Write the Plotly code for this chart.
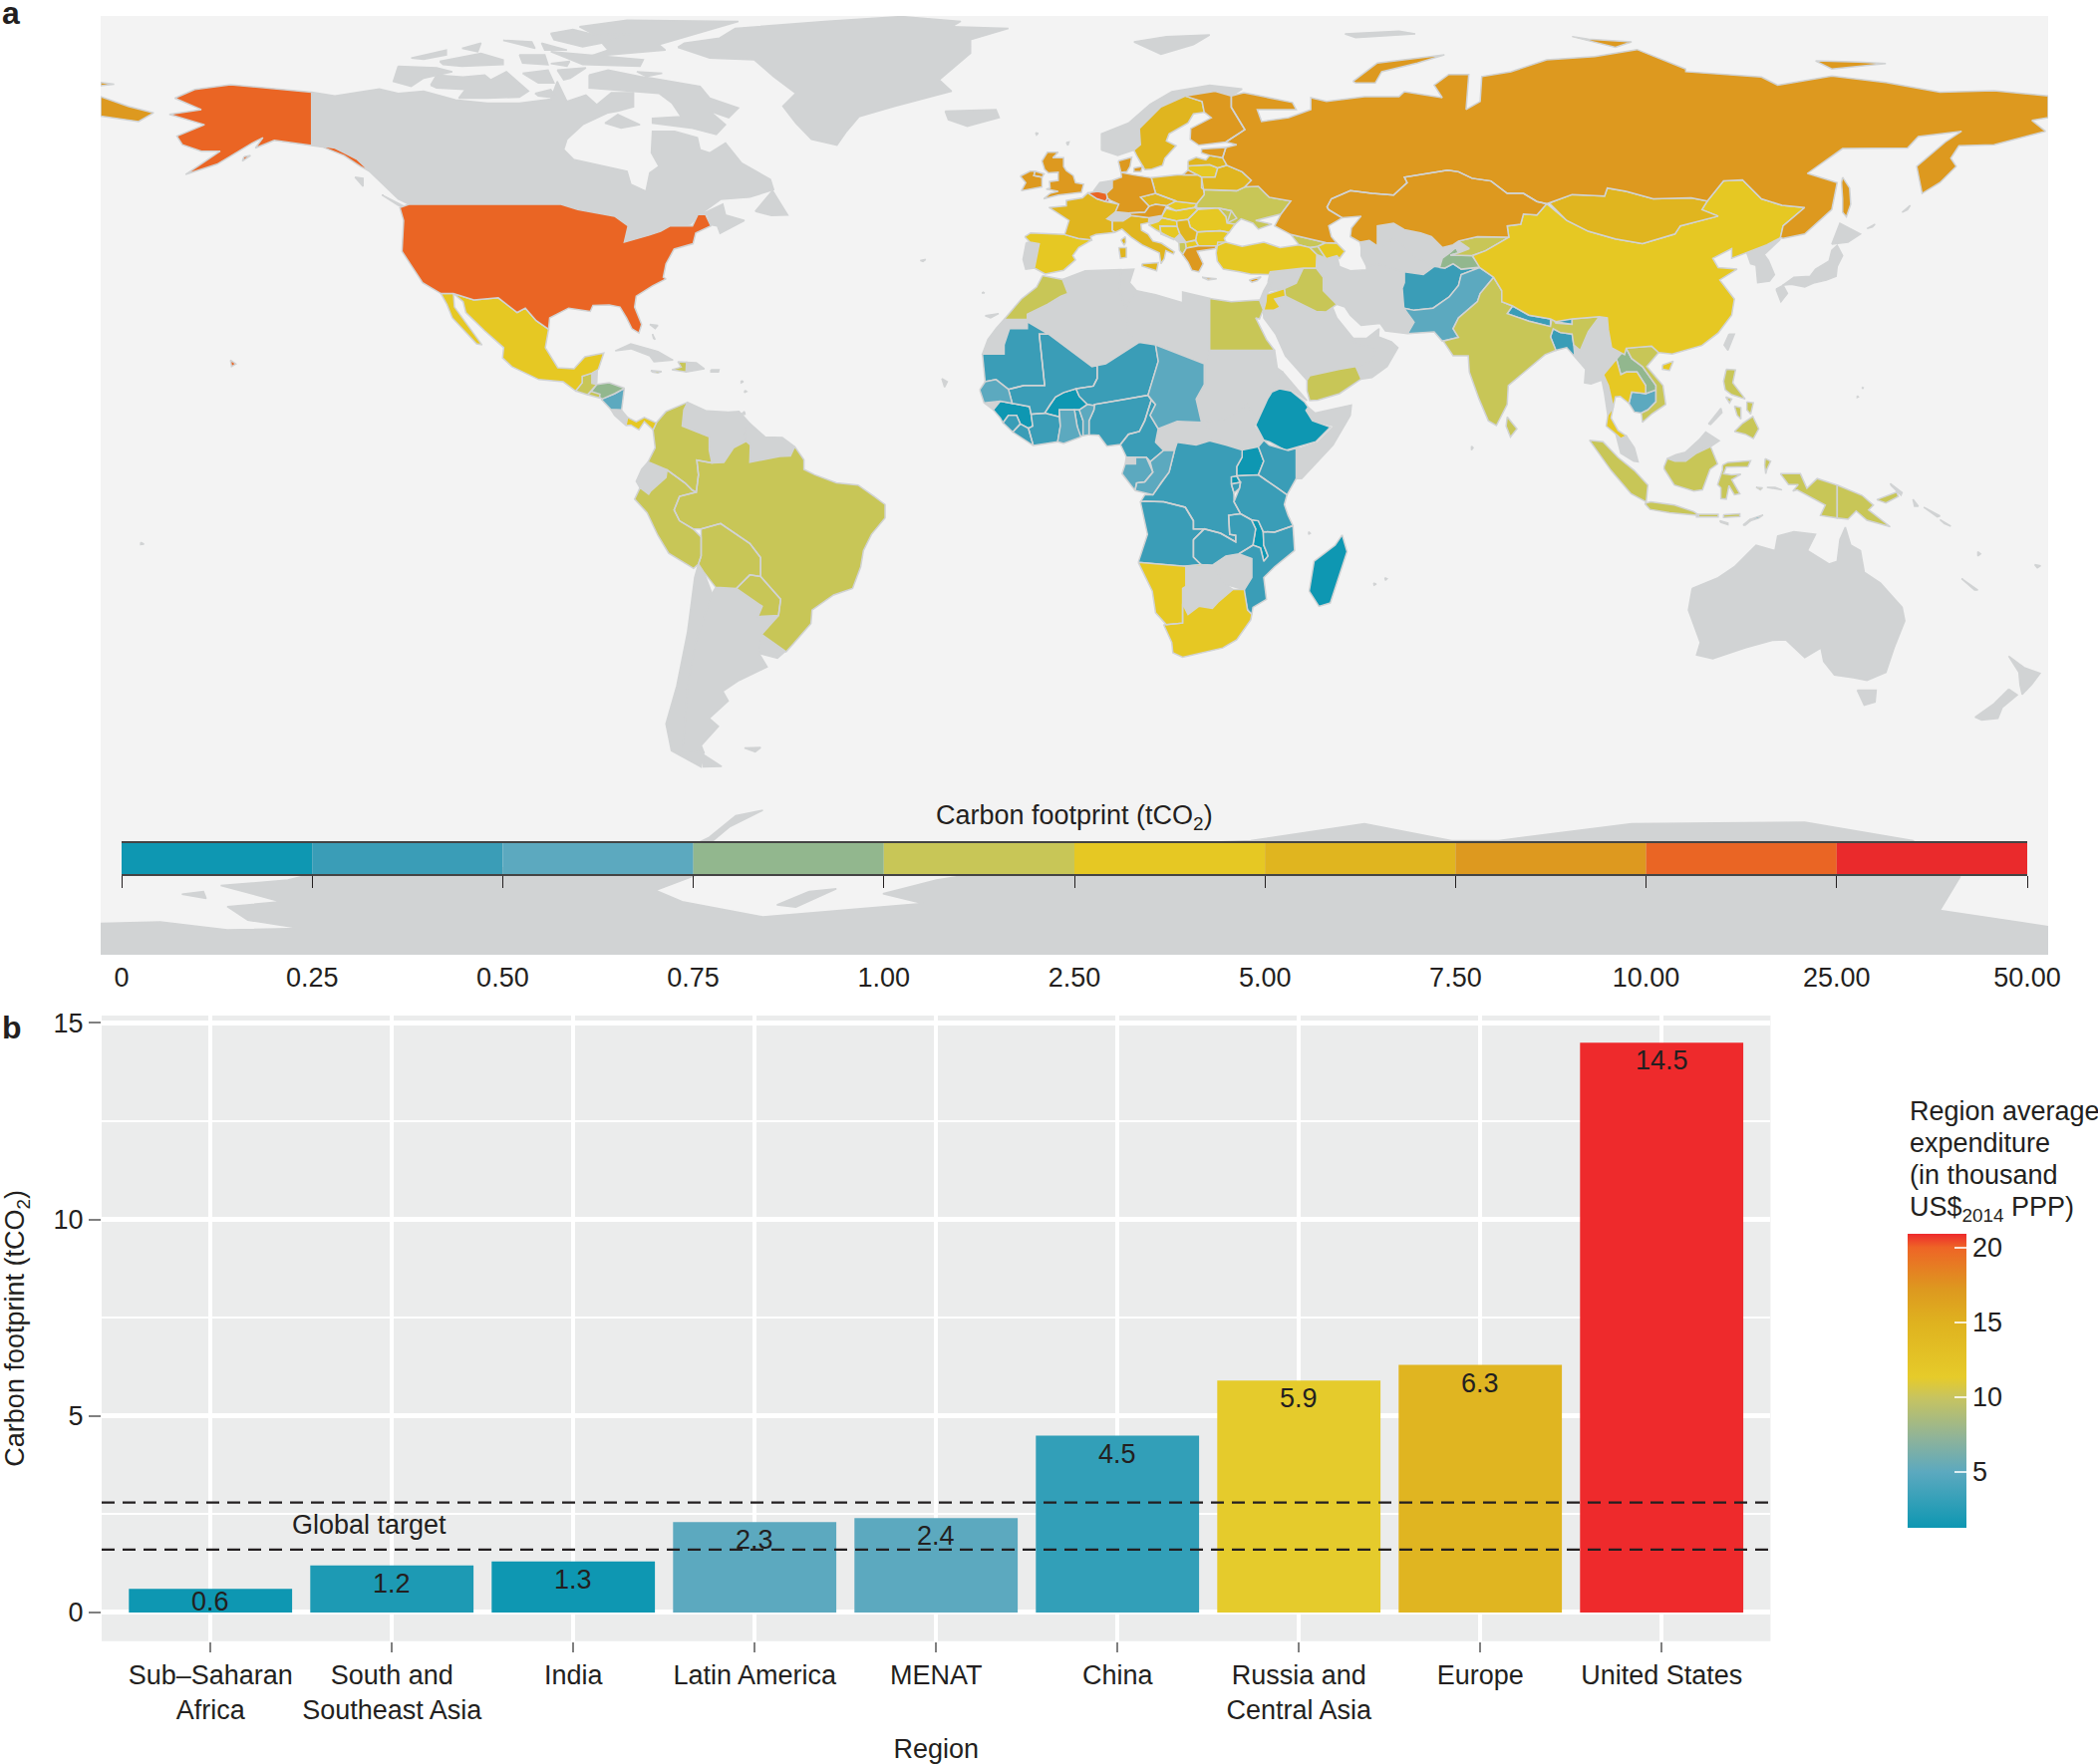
import plotly.graph_objects as go

W, H = 2105, 1770
INK = "#231F20"
FONT = "Liberation Sans, Arial, sans-serif"

# ---------- panel b data ----------
REGIONS = ["Sub–Saharan<br>Africa", "South and<br>Southeast Asia", "India", "Latin America", "MENAT",
           "China", "Russia and<br>Central Asia", "Europe", "United States"]
FOOTPRINT = [0.6, 1.2, 1.3, 2.3, 2.4, 4.5, 5.9, 6.3, 14.5]
EXPENDITURE = [1.3, 2.0, 1.3, 5.0, 5.0, 3.0, 11.3, 14.5, 20.93]
TARGET_LOW = 1.6
TARGET_HIGH = 2.8
EXP_MIN, EXP_MAX = 1.29, 20.93
EXP_TICKS = [5, 10, 15, 20]
EXP_SCALE = [[0, "#0E97B2"], [0.19, "#5CA9BF"], [0.303, "#8EB39A"], [0.444, "#C8C45F"], [0.512, "#E6CB2A"],
             [0.698, "#DFB21F"], [0.811, "#DD991F"], [0.953, "#EE6526"], [1, "#EE2A2C"]]
EXP_TITLE = ["Region average", "expenditure", "(in thousand", "US$<sub>2014</sub> PPP)"]

# ---------- panel a legend ----------
BIN_LABELS = ["0", "0.25", "0.50", "0.75", "1.00", "2.50", "5.00", "7.50", "10.00", "25.00", "50.00"]
BIN_COLOURS = ["#0E97B2", "#3A9DB7", "#5CA9BF", "#92B78E", "#C8C657", "#E6C823", "#E0B51F", "#DD991F", "#EA6524", "#EA2A2C"]
NO_DATA = "#D1D3D4"
OCEAN = "#F3F3F3"

# ---------- panel a outlines (lon, lat) ----------
CANADA = [[(-141,69.7),(-136.7,69),(-128.5,70.3),(-125,69.5),(-120.3,69.9),(-114.4,68.3),(-108.5,67.7),(-102.6,67.7),(-96.8,68.4),(-95.6,71.7),(-93.8,68),(-90.3,69.2),(-88.3,67.4),(-85.6,69.6),(-81.5,69.6),(-81.5,67),(-84.4,66.2),(-86.2,65.9),(-90.9,63.7),(-93.8,61),(-94.4,59.1),(-92.6,57.3),(-82.7,55.1),(-82,52.7),(-79.2,51.4),(-78.5,54.8),(-76.8,56),(-78.2,58.5),(-78,62.5),(-73.9,62.5),(-69.7,61.3),(-69.2,59.1),(-67.4,58.5),(-64.5,60.3),(-61.5,56.6),(-56.2,53.6),(-55.6,51.7),(-60,50.3),(-65.4,49.9),(-69.7,46.8),(-65,49),(-64.5,47),(-61,46),(-65.5,43.6),(-66,45),(-67.2,45.2),(-67.8,47),(-69.2,47.4),(-71,45.3),(-74.7,45),(-76.5,44),(-78.6,43.3),(-83.2,42),(-82.5,45),(-85,46.8),(-91.8,48),(-94.9,49),(-123,49),(-125,50),(-130.3,55.1),(-132.6,57.3),(-136.7,59.4),(-141,60)],
          [(-59,47.7),(-55.8,51.5),(-53,47),(-56,46.9)],
          [(-89.7,72.9),(-86.2,73.8),(-80.3,72.6),(-78,72.3),(-69.2,70.8),(-67.4,68.6),(-62.1,66.8),(-63.9,65),(-67.4,66.2),(-64.5,63.7),(-66.2,61.9),(-70.9,63.1),(-78,64),(-78,64.9),(-72.7,65.2),(-74.4,67.7),(-76.8,69.5),(-82.1,69.9),(-89.7,70.5)],
          [(-119,71),(-117.9,72.9),(-113,72.5),(-109,72.9),(-107.9,72),(-105,73.5),(-100.9,69.9),(-102.6,68.8),(-108.5,68.6),(-113.8,68.6),(-112.6,70.2),(-117.9,70.5)],
          [(-125,74.5),(-117.9,74.2),(-115,73.5),(-120.3,72.3),(-122.6,70.8),(-125.9,71.7)],
          [(-122.6,76),(-116.1,77.5),(-116.1,76.6),(-120.3,75.8)],
          [(-117.3,75.4),(-109.7,76.9),(-105.6,75.7),(-105.6,74.8),(-113.2,74.5),(-116.7,74.8)],
          [(-102.6,76.6),(-97.9,76.6),(-97.3,74.8),(-102,75.1)],
          [(-113.2,77.8),(-109.7,78.8),(-110.3,77.2)],
          [(-105.6,79.3),(-100.3,79),(-99.7,77.8)],
          [(-98.5,78.8),(-93.8,77.5),(-97.9,77.5)],
          [(-96.8,77.2),(-79.7,75.7),(-80.3,74.5),(-90.9,74.8),(-93.8,76)],
          [(-96.8,75),(-93.3,75.4),(-93.8,74.5),(-96.2,74.8)],
          [(-102,73.2),(-97.3,73.8),(-96.2,71.4),(-99.1,71.4)],
          [(-95.6,73.8),(-90.3,74.2),(-93.2,72.3),(-94.4,72)],
          [(-80.9,73.5),(-76.2,73.2),(-79.1,72.6)],
          [(-86.8,64),(-84.4,65.6),(-80.3,63.7),(-83.8,63.1)],
          [(-99.7,69.5),(-96.8,70.2),(-95.6,68.6),(-99.1,69)],
          [(-96.8,80.6),(-92.7,81.3),(-88.6,80.3),(-82.1,80.5),(-87.4,78.8),(-90.9,78.1),(-96.2,79.4)],
          [(-91.5,81.8),(-82.7,83),(-62.1,82.8),(-69.7,80.6),(-76.8,78.5),(-75.6,77.5),(-89.7,76.3),(-86.2,77.5),(-87.4,78.8),(-88.6,80.3)],
          [(-128,50.7),(-123.5,48.4),(-125,48.8)],
          [(-133,54),(-131.5,53.8),(-131.5,52.3)]]
GREENLAND = [[(-73.3,78),(-67.4,76),(-59.2,75.7),(-55.6,72.6),(-51.5,69.5),(-53.9,67.1),(-51.5,64),(-48.6,61),(-43.9,59.9),(-42.1,62.5),(-39.8,65.2),(-33.3,67.1),(-22.7,69.9),(-25,72),(-19.2,76.9),(-19.2,79.4),(-12.2,81.5),(-22.7,81.8),(-21,82.8),(-32,83.7),(-46.2,82.8),(-62.7,81.5),(-65.6,79.7),(-72.1,78.8)]]
USA = [[(-123,49),(-94.9,49),(-91.8,48),(-85,46.8),(-82.5,45),(-83.2,42),(-78.6,43.3),(-76.5,44),(-74.7,45),(-70.6,45),(-69.6,47.1),(-68.2,47.1),(-67.2,45),(-70,43.7),(-70.5,41.7),(-74,40.7),(-75.5,38),(-76,35.5),(-75.5,35.2),(-78,33.9),(-81,32),(-81.3,30),(-80,26.8),(-80.5,25.2),(-81.8,26),(-82.8,28),(-84,30),(-86,30.4),(-89,30.3),(-89.5,29.2),(-93.5,29.8),(-97,28),(-97.2,25.9),(-99.5,27.5),(-101.5,29.8),(-103,29),(-106.5,31.7),(-111,31.3),(-114.8,32.5),(-117.1,32.5),(-120.5,34.5),(-122.5,37.5),(-124.3,40.3),(-124,46),(-124.7,48.4)],
       [(-141,69.7),(-141,60),(-136.7,59.4),(-132.6,57.3),(-130.3,55.1),(-132,56),(-135,58),(-139,59.6),(-147.9,60.8),(-151.4,59.4),(-150,61.3),(-152,60.3),(-158.5,56.4),(-164.3,54.5),(-157.9,58.8),(-161.4,58.8),(-164.9,60),(-165.9,61.6),(-160.8,63.7),(-167.3,65.6),(-161.4,66.5),(-166.3,68.6),(-162.6,70.2),(-156,71.1)],
       [(-153.5,57.8),(-152.3,58),(-153.8,57)],
       [(-156,20.2),(-155,19.5),(-155.8,19),(-156,20)]]
MEXICO = [[(-114.8,32.5),(-111,31.3),(-106.5,31.7),(-103,29),(-101.5,29.8),(-99.5,27.5),(-97.2,25.9),(-97.8,22.5),(-95.5,18.8),(-92.5,18.6),(-90.5,20.8),(-87,21.5),(-88,18.5),(-89.2,17.8),(-91,17.2),(-91,16),(-92.2,14.5),(-94.5,16.2),(-99,16.6),(-104,19),(-105.7,20.6),(-105.5,22.5),(-109,25.6),(-112.5,29),(-113,31)],
          [(-117.1,32.5),(-114.8,32.5),(-114.6,30),(-111,25),(-109.5,23),(-110.5,23.2),(-112.2,25),(-115,28),(-116,30.5)]]
GUATEMALA = [[(-92.2,14.5),(-91,16),(-91,17.2),(-89.2,17.8),(-89.2,15.9),(-88.3,15.7),(-90,13.8)]]
BELIZE = [[(-89.2,17.9),(-88.2,18.4),(-88.3,16),(-89.2,15.9)]]
EL_SALVADOR = [[(-90,13.8),(-89.3,14.4),(-87.7,13.9),(-87.8,13.2)]]
HONDURAS = [[(-89.3,14.4),(-88.3,15.7),(-86,16),(-83.2,15),(-85,14),(-87.3,13)]]
NICARAGUA = [[(-87.5,13),(-85,14),(-83.2,15),(-83.7,11),(-85.7,11.1)]]
COSTA_RICA = [[(-85.7,11.1),(-83.7,10.9),(-82.6,9.6),(-82.9,8.1),(-85,10)]]
PANAMA = [[(-82.9,8.1),(-82.6,9.6),(-81,8.8),(-79.5,9.6),(-77.3,8.6),(-77.9,7.3),(-79.5,8.8),(-80.5,7.3),(-82,8.2)]]
CUBA = [[(-84.9,21.9),(-82,23.2),(-77,21.8),(-74.2,20.2),(-77.7,19.9),(-78.5,21),(-82,22.3)]]
HAITI = [[(-74.4,18.4),(-71.8,18),(-71.7,19.8),(-73.3,19.9),(-72.7,18.9)]]
DOMINICAN = [[(-71.8,18),(-68.4,18.6),(-69.9,19.7),(-71.7,19.8)]]
JAMAICA = [[(-78.3,18.3),(-76.3,18.1),(-77,17.8),(-78,18)]]
PUERTO_RICO = [[(-67.2,18.4),(-65.7,18.4),(-65.8,18),(-67.2,18)]]
BAHAMAS = [[(-78.5,26.8),(-77,26.6),(-77.5,26)],[(-78,25),(-77.5,24),(-77.8,24.2)]]
COLOMBIA = [[(-77.3,8.6),(-75.5,10.7),(-71.5,12.4),(-72.2,11),(-72.5,8),(-70,7),(-67.5,6),(-67.5,3.5),(-67,1.2),(-69.8,1.7),(-69.5,-1),(-69.9,-4.2),(-70.7,-3.8),(-72,-2.5),(-75.3,-0.1),(-78.8,1.4),(-77.5,4),(-77.9,7.3)]]
VENEZUELA = [[(-72.2,11),(-71.5,12.4),(-68,10.8),(-64,10.6),(-62,10.7),(-60,8.5),(-61,7),(-60.7,5.2),(-63,4),(-64.8,1.3),(-67,1.2),(-67.5,3.5),(-67.5,6),(-70,7),(-72.5,8)]]
GUIANAS = [[(-60,8.5),(-57.2,6),(-54,5.9),(-51.7,4.2),(-52.5,2.5),(-54.5,2.4),(-56.7,1.9),(-60,1.3),(-59.9,4.5),(-60.7,5.2),(-61,7)]]
ECUADOR = [[(-78.8,1.4),(-75.3,-0.1),(-75.5,-1.5),(-78.3,-4),(-78.7,-4.6),(-80.3,-3.4),(-81,-2.2),(-80,0)]]
PERU = [[(-80.3,-3.4),(-78.7,-4.6),(-78.3,-4),(-75.5,-1.5),(-75.3,-0.1),(-72,-2.5),(-70.7,-3.8),(-69.9,-4.2),(-73,-5),(-74,-7.5),(-73,-9.5),(-70.5,-11),(-69,-12.5),(-69,-16),(-69.5,-17.5),(-70.4,-18.3),(-75,-15.5),(-77,-12.2),(-79,-8),(-81.3,-5.5)]]
BOLIVIA = [[(-69,-11),(-65.4,-10),(-60,-13.7),(-58,-16.3),(-58,-19.8),(-60,-19.5),(-62.5,-22),(-66.3,-21.8),(-68.5,-19),(-69.5,-17.5),(-69,-16),(-69,-12.5)]]
PARAGUAY = [[(-62.5,-22),(-60,-19.5),(-58,-19.8),(-55.8,-22.3),(-54.3,-24),(-54.7,-27),(-58.5,-27.2),(-57.7,-25.3)]]
CHILE = [[(-69.5,-17.5),(-68.5,-19),(-67,-23),(-70,-32),(-71.5,-40),(-72,-47),(-72.5,-52),(-68.5,-52.3),(-69,-55),(-74.5,-52),(-75.5,-47),(-73.5,-40),(-71.5,-30),(-70.2,-20)]]
ARGENTINA = [[(-66.3,-21.8),(-62.5,-22),(-57.7,-25.3),(-58.5,-27.2),(-54.7,-27),(-57.8,-30.5),(-58.3,-34),(-56.8,-36.5),(-62,-39),(-65,-41),(-64,-42.8),(-67.5,-46),(-65.8,-47.5),(-69,-51),(-68.5,-52.3),(-72.5,-52),(-72,-47),(-71.5,-40),(-70,-32),(-67,-23)],
             [(-68.6,-52.7),(-65.2,-54.9),(-68.6,-55)]]
URUGUAY = [[(-57.8,-30.5),(-53.3,-33.5),(-54.9,-34.9),(-58.3,-34)]]
BRAZIL = [[(-51.7,4.2),(-50,1.8),(-50,0),(-48,-1),(-44,-2.5),(-40,-2.9),(-37,-5),(-35,-6.5),(-35,-9),(-37.5,-12),(-39,-15),(-39.5,-18),(-41,-22),(-44.5,-23.2),(-48.5,-26),(-48.7,-28.5),(-52,-32.3),(-53.3,-33.7),(-57.8,-30.5),(-54.7,-27),(-54.3,-24),(-55.8,-22.3),(-58,-19.8),(-58,-16.3),(-60,-13.7),(-65.4,-10),(-69,-11),(-70.5,-11),(-73,-9.5),(-74,-7.5),(-73,-5),(-69.9,-4.2),(-69.5,-1),(-69.8,1.7),(-67,1.2),(-64.8,1.3),(-63,4),(-60.7,5.2),(-59.9,4.5),(-60,1.3),(-56.7,1.9),(-54.5,2.4),(-52.5,2.5)]]
FALKLANDS = [[(-61,-51.5),(-58,-51.4),(-59,-52.2)]]

MOROCCO = [[(-5.9,35.8),(-2.2,35.1),(-1.2,32.5),(-2.5,32),(-5,30.5),(-8.7,28.7),(-8.7,27.7),(-13,27.7),(-9.8,31.5),(-7,33.7)]]
W_SAHARA = [[(-13,27.7),(-8.7,27.7),(-8.7,26),(-12,26),(-13,23),(-13,21.3),(-17,21.3),(-16,24),(-14.5,26)]]
ALGERIA = [[(-2.2,35.1),(2,36.7),(8.6,36.9),(8.3,33),(9.5,30),(10,25),(12,23.5),(5.8,19.5),(3.2,19),(-4.8,25),(-8.7,27.3),(-8.7,28.7),(-5,30.5),(-2.5,32),(-1.2,32.5)]]
TUNISIA = [[(8.6,36.9),(11,37),(10.2,34.5),(11.5,33),(9.5,30),(8.3,33)]]
LIBYA = [[(11.5,33),(15,32.3),(20,30.8),(20,32.8),(25,31.6),(25,22),(24,19.5),(15,23),(12,23.5),(10,25),(9.5,30)]]
EGYPT = [[(25,31.6),(29,31),(32.5,31.2),(34.2,31.3),(34.9,29.5),(34.2,27.8),(33.5,28),(35.5,24),(37,22),(25,22)]]
MAURITANIA = [[(-17,21.3),(-13,21.3),(-13,23),(-12,26),(-8.7,26),(-8.7,27.3),(-4.8,25),(-6.5,25),(-5.5,15.5),(-9.3,15.5),(-12.2,14.8),(-14.5,16.6),(-16.5,16.2)]]
MALI = [[(-12.2,14.8),(-9.3,15.5),(-5.5,15.5),(-6.5,25),(-4.8,25),(3.2,19),(4.2,19.2),(4.2,16.8),(3.5,15.4),(0.3,14.9),(-2,14.2),(-3.5,13.4),(-4.5,12),(-5.5,10.4),(-8,10.2),(-8.3,11.6),(-11.5,12.2)]]
NIGER = [[(3.2,19),(5.8,19.5),(12,23.5),(15,23),(15.5,20),(13.6,13.7),(9,12.9),(3.7,12),(3.6,11.7),(2.4,12),(0.9,13.5),(0.3,14.9),(3.5,15.4),(4.2,16.8),(4.2,19.2)]]
CHAD = [[(15,23),(24,19.5),(24,15.7),(22.5,13),(23.5,8.7),(19,8.9),(15.5,7.5),(14,10),(15,12),(13.6,13.7),(15.5,20)]]
SUDAN = [[(24,19.5),(25,22),(37,22),(37.5,18.7),(38.5,18),(36.5,14.3),(36,12.5),(34.2,10),(33,10.3),(32,12),(28,9.4),(23.5,8.7),(22.5,13),(24,15.7)]]
S_SUDAN = [[(23.5,8.7),(28,9.4),(32,12),(33,10.3),(34.2,10),(33.2,8),(35,5.4),(34,4.2),(31,3.6),(28,4.5),(25,5.3),(27,5.2)]]
ERITREA = [[(36.5,14.3),(38.5,18),(43,12.7),(40,14.8),(37.9,14.9)]]
ETHIOPIA = [[(36.5,14.3),(37.9,14.9),(40,14.5),(42.5,12.5),(43.2,11.5),(42.8,10.9),(44,9),(47.3,7.8),(44.6,5.1),(41.5,4.2),(39,3.5),(36,5.1),(35,5.4),(33.5,8.2),(34.5,10.5),(35.7,13)]]
SOMALIA = [[(43.2,11.5),(44.5,10.4),(48,11.2),(51.2,11.9),(51,10),(47.8,4.5),(42,-1.7),(41,-1.7),(41,3.9),(42,4),(45,5),(48,8),(44,9),(42.8,10.9)]]
KENYA = [[(35,5.4),(36,4.5),(39.5,3.5),(41,3.9),(41,-1.7),(39.3,-4.7),(37.6,-3.5),(34,-1),(35,1.5),(34,4.2)]]
UGANDA = [[(31,3.6),(34,4.2),(35,1.5),(34,-1),(30,-1.2),(30,0.5),(31,2.3)]]
TANZANIA = [[(30,-1.2),(34,-1),(37.6,-3.5),(39.3,-4.7),(38.8,-6.5),(39.5,-8.5),(40.4,-10.4),(37,-11.6),(34.9,-11.5),(34,-9.5),(32.7,-9.3),(30.7,-8.2),(29.5,-6),(30.5,-3.5),(30.7,-2.4)]]
RWANDA = [[(29,-1.4),(30,-1.2),(30.7,-2.4),(29,-2.7)]]
BURUNDI = [[(29,-2.7),(30.7,-2.4),(30.5,-3.5),(29.5,-4.4)]]
DR_CONGO = [[(12.2,-6),(13,-4.7),(14.5,-4.7),(16,-2.5),(17.5,-0.5),(18.5,3.5),(19,5),(22.5,4.5),(25,5.3),(28,4.5),(31,3.6),(31,2.3),(30,0.5),(30,-1.2),(29,-1.4),(29,-2.7),(29.5,-4.4),(29.5,-6),(30.7,-8.2),(28.5,-8.5),(28.7,-12),(29.8,-12.2),(29.8,-13.4),(27,-11.8),(24,-11),(22,-11),(22,-9.5),(20.5,-7),(16.5,-6),(13,-5.9)]]
CONGO = [[(11.2,-3.9),(14.5,-4.7),(16,-2.5),(17.5,-0.5),(18.5,3.5),(16.5,3.5),(14,1.4),(13.3,2.2),(14.5,-0.5),(13,-2.3),(11.5,-2.5)]]
GABON = [[(9.4,1),(11.3,1),(11.3,2.2),(13.3,2.2),(14,1.4),(14.5,-0.5),(13,-2.3),(11.5,-2.5),(11.2,-3.9),(8.8,-0.8)]]
EQ_GUINEA = [[(9.6,2.3),(11.3,2.2),(11.3,1),(9.4,1)]]
CAMEROON = [[(8.5,4.6),(9.6,2.3),(13.3,2.2),(14,1.4),(16.5,3.5),(15,5),(15.5,7.5),(14,10),(15,12),(14.2,12.8),(13,9),(12,7),(10,6.5)]]
CAR = [[(15,5),(16.5,3.5),(18.5,3.5),(19,5),(22.5,4.5),(25,5.3),(27,5.2),(23.5,8.7),(19,8.9),(15.5,7.5)]]
NIGERIA = [[(2.7,6.4),(4.5,6.3),(6,4.3),(8.5,4.6),(10,6.5),(12,7),(13,9),(14.2,12.8),(13.6,13.7),(9,12.9),(3.7,12),(3.6,11),(2.7,9)]]
BENIN = [[(1.6,6.2),(2.7,6.4),(2.7,9),(3.6,11),(3.7,11.8),(2.4,12),(0.9,11),(1.6,9)]]
TOGO = [[(0.5,6.1),(1.6,6.2),(1.6,9),(0.9,11),(0,11),(0.5,8)]]
GHANA = [[(-3.1,5.1),(-2,4.8),(1.2,6),(0.5,8),(0,11),(-2.8,11),(-2.6,8)]]
BURKINA = [[(-5.5,10.4),(-2.8,9.7),(-2.8,11),(0,11),(0.9,11),(2.4,12),(0.9,13.5),(0.3,14.9),(-2,14.2),(-3.5,13.4),(-4.5,12)]]
IVORY_COAST = [[(-7.6,4.4),(-3.1,5.1),(-2.6,8),(-2.8,9.7),(-5.5,10.4),(-8,10.2),(-7.7,8),(-8.5,7.6)]]
LIBERIA = [[(-11.4,6.9),(-7.6,4.4),(-8.5,7.6),(-10,8.4)]]
SIERRA_LEONE = [[(-13.2,8.6),(-11.4,6.9),(-10,8.4),(-10.7,10),(-12.2,10)]]
GUINEA = [[(-15,11),(-13.7,9.5),(-13.2,8.6),(-12.2,10),(-10.7,10),(-10,8.4),(-8.5,7.6),(-7.7,8),(-8,10.2),(-8.3,11.6),(-11.5,12.2),(-13.7,12.6)]]
GUINEA_BISSAU = [[(-16.7,12.3),(-13.7,12.6),(-15,11)]]
SENEGAL = [[(-17.5,14.7),(-16.5,16.2),(-14.5,16.6),(-12.2,14.8),(-11.5,12.2),(-13.7,12.6),(-16.7,12.3)]]
ANGOLA = [[(11.8,-17.2),(13.5,-12),(12.2,-6),(13,-5.9),(16.5,-6),(20.5,-7),(22,-9.5),(22,-11),(24,-11),(22,-13),(22,-16.2),(23.4,-17.6),(20,-17.9),(13.9,-17.4)]]
ZAMBIA = [[(22,-13),(24,-11),(27,-11.8),(29.8,-13.4),(29.8,-12.2),(28.7,-12),(28.5,-8.5),(30.7,-8.2),(32.7,-9.3),(33.5,-11),(33,-14),(30.4,-15.6),(28,-16),(25.5,-17.7),(23.4,-17.6),(22,-16.2)]]
MALAWI = [[(32.7,-9.3),(34,-9.5),(34.9,-11.5),(35,-14),(35.8,-16),(35,-17),(34.4,-14.5),(33,-14),(33.5,-11)]]
MOZAMBIQUE = [[(40.4,-10.4),(40.7,-15),(37,-18),(35,-20),(35.5,-24),(33,-25.5),(32.8,-26.8),(32,-26),(31.3,-22.4),(32.8,-20),(32.8,-16.5),(30.4,-15.6),(33,-14),(34.4,-14.5),(35,-17),(35.8,-16),(35,-14),(34.9,-11.5),(37,-11.6)]]
ZIMBABWE = [[(25.5,-17.9),(29.2,-15.5),(32.9,-16.4),(32.9,-19.5),(31.4,-22.2),(28,-21.3)]]
BOTSWANA = [[(20.6,-18.1),(25.5,-17.9),(28,-21.3),(29.3,-22.2),(26.5,-24.6),(25.5,-25.7),(23,-25.3),(21,-26.8),(20,-24.8),(20,-22),(20.6,-21.6)]]
NAMIBIA = [[(11.8,-17.2),(13.9,-17.4),(20.6,-17.9),(23.4,-17.6),(25.2,-17.8),(20.6,-18.1),(20.6,-21.6),(20,-22),(20,-28.4),(17,-28.7),(15,-26.5),(14.4,-22.5)]]
SOUTH_AFRICA = [[(16.5,-28.7),(17,-28.7),(20,-28.4),(20,-24.8),(21,-26.8),(23,-25.3),(25.5,-25.7),(26.5,-24.6),(29.3,-22.2),(31.4,-22.2),(32,-26),(32.8,-26.8),(32.6,-27.8),(30,-31.5),(27.4,-33),(22,-34.2),(20,-34.7),(18.2,-33.9),(18,-32)]]
LESOTHO = [[(27,-29.7),(28.8,-28.7),(29.4,-29.6),(28,-30.6)]]
SWAZILAND = [[(30.8,-26),(32,-26),(32,-27.2),(31,-27.2)]]
MADAGASCAR = [[(49.5,-12.1),(50.4,-15.2),(47.3,-24.7),(45.2,-25.3),(43.4,-22.5),(44.3,-17),(48.2,-14)]]

TURKEY = [[(26.2,40),(26.5,42),(28,42),(31,41.2),(35,42),(38,41),(41.5,41.5),(43.5,41),(44.8,39.7),(44.7,37.2),(42.3,37.2),(38,36.7),(36.2,36.5),(36,36),(32.5,36.1),(30.5,36.5),(27.5,37),(26.4,38.5)]]
SYRIA = [[(36.2,36.5),(38,36.7),(42.3,37.2),(41,34.4),(38.8,33.4),(36,33),(35.8,34.7)]]
IRAQ = [[(42.3,37.2),(44.7,37.2),(46,35.5),(46,33),(48.5,30.5),(47.7,30),(46.5,29.1),(44.7,29.2),(39,32),(38.8,33.4),(41,34.4)]]
JORDAN = [[(35,29.4),(36.8,29.4),(38,30),(37,31.5),(39,32),(38.8,33.4),(36,32.5),(35.5,32.4),(35.4,31)]]
ISRAEL_LEBANON = [[(35,29.5),(34.3,31.3),(35,33),(35.9,34.6),(36.5,34.4),(36,33),(35.5,32.4),(35.4,31)]]
SAUDI = [[(34.9,29.4),(36.8,29.4),(38,30),(37,31.5),(39,32),(44.7,29.2),(46.5,29.1),(47.7,30),(48.5,28),(50.2,26),(51.5,24.3),(52,23),(55,22.7),(55.6,22),(55,20),(52,19),(49,18.5),(43.5,17.3),(43,16.5),(39,21),(37.2,25),(35,28)]]
YEMEN = [[(43,16.5),(43.5,17.3),(49,18.5),(52,19),(53,16.7),(49,14),(45,12.8),(43.5,12.7),(43,14.5)]]
OMAN_UAE = [[(52,19),(55,20),(55.6,22),(55,22.7),(52,23),(51.5,24.2),(54,24.2),(56.3,26),(56.2,24.5),(58.6,23.6),(59.8,22.5),(57.8,19),(55,17),(53,16.7)]]
IRAN = [[(44.8,39.7),(46.5,38.9),(48.5,39.5),(49,37.5),(51,36.7),(54,36.9),(54,37.5),(56,38),(61,36.5),(61,34.5),(60.6,33.5),(60.9,29.8),(62.8,27.2),(61.5,25.1),(57.5,25.6),(56.5,27),(53,26.6),(51,28.5),(50,30),(48.5,30.5),(46,33),(46,35.5),(44.7,37.2)]]
TURKMENISTAN = [[(52.8,42),(54.5,42.3),(56,41.3),(57,41.3),(59,42.7),(61,41.2),(63,39.3),(66.5,37.5),(64.5,36),(61,36.5),(56,38),(54,37.5),(53,39.5),(53,41)]]
UZBEKISTAN = [[(56,45),(59,45.5),(61,44.3),(64,43.7),(66,43),(68,41),(70,41.5),(71,42.2),(73,40.8),(71,40),(68,39),(67.5,37.3),(66.5,37.5),(63,39.3),(61,41.2),(59,42.7),(57,41.3),(56,41.3)]]
KAZAKHSTAN = [[(49.5,46.5),(47,48),(46.7,48.5),(47.5,50),(51,51.5),(55,51),(59,50.7),(61.5,53),(61,54),(65,54.6),(69,55.3),(71,55),(73.5,53.8),(77,53.3),(80,51),(83,51),(85.5,49.5),(87.3,49.1),(85.5,47),(83,47.2),(82.5,45.3),(80,45),(80.3,42.9),(74.5,43),(71,42.2),(70,41.5),(68,41),(66,43),(64,43.7),(61,44.3),(59,45.5),(56,45),(56,41.3),(54.5,42.3),(52.8,42),(51,43),(51.2,44.6),(53,46.8)]]
KYRGYZSTAN = [[(71,42.2),(74.5,43),(80.3,42.9),(76,40.4),(73.5,39.5),(69.5,39.6),(71,40),(73,40.8)]]
TAJIKISTAN = [[(67.5,37.3),(68,39),(69.5,40.1),(70.5,41),(71,40),(69.5,39.6),(73.5,39.5),(75,37.4),(71.5,37),(70,38),(68.5,37.2)]]
AFGHANISTAN = [[(61,36.5),(64.5,36),(66.5,37.5),(68.5,37.2),(70,38),(71.5,37),(74.9,37.3),(71.5,36),(71,34),(69.3,31.9),(66.3,29.8),(62.8,29.4),(60.9,29.8),(60.6,33.5),(61,34.5)]]
PAKISTAN = [[(60.9,29.8),(62.8,29.4),(66.3,29.8),(69.3,31.9),(71,34),(71.5,36),(74.9,37.3),(77.5,35.5),(75,32.5),(74.5,31),(71,28),(70,26),(71,24.4),(68,23.7),(66.5,25.4),(61.6,25.1),(62.8,27.2)]]
INDIA = [[(77.5,35.5),(79,33),(79,31),(81,30.2),(80,28.8),(84,27.4),(88,26.4),(88.3,28),(89,27),(92,26.8),(92,27.8),(97,28.2),(95,25.5),(93.5,22),(92.3,23),(92,25),(89.8,25.3),(88.5,26),(88,24.5),(89,22),(87,21.2),(85,19.5),(80.2,15.5),(80,12),(78,8.1),(76.5,9),(74.8,13),(73,18),(72.8,21),(70,21),(69,22.4),(68.2,23.7),(71,24.4),(70,26),(71,28),(74.5,31),(75,32.5)]]
NEPAL = [[(80,28.8),(81,30.2),(84,28.5),(88,27.8),(88,26.4),(84,27.4)]]
BHUTAN = [[(89,27.3),(89.5,28),(92,27.8),(92,26.8)]]
BANGLADESH = [[(88,24.5),(88.5,26),(89.8,25.3),(92,25),(92.3,23),(92.5,20.8),(91,22.5),(89,22)]]
SRI_LANKA = [[(80,9.7),(81.8,7.5),(80.6,6),(79.8,8)]]
CHINA = [[(73.6,39.5),(76,40.4),(80.3,42.9),(80,45),(82.5,45.3),(83,47.2),(85.5,47),(87.3,49.1),(91,46),(95,44),(100,42.6),(105,41.7),(111,43.5),(112,45),(119,46.8),(116,48),(117,49.6),(120,53.3),(123.5,53.5),(127,50),(130.8,48.8),(135,48.4),(131,45),(130.5,42.8),(128,41.5),(124.3,40),(121.5,39),(121.5,40.8),(118,39),(119,37.3),(122.5,37),(119.3,35),(122,31.5),(121.5,28.5),(119,25.2),(116,22.9),(110.5,21.3),(108,21.6),(106.7,22.8),(102,22.4),(101.7,21.2),(99.3,22.5),(98.7,25.8),(98.5,28),(97,28.2),(92,27.8),(89,27.3),(88,27.8),(84,28.5),(81,30.2),(79,31),(79,33),(77.5,35.5),(74.9,37.3)],
         [(108.7,19.3),(110.7,20),(110,18.3),(108.7,18.5)]]
TAIWAN = [[(121,25),(122,25),(120.8,22),(120.1,23)]]
MONGOLIA = [[(87.8,49.2),(92,50.8),(98,50.5),(98.5,52),(102,51.4),(107,50),(114,50.2),(117,49.6),(116,48),(119,46.8),(112,45),(111,43.5),(105,41.7),(100,42.6),(95,44),(91,46)]]
KOREAS = [[(124.3,40),(128,41.5),(130.5,42.5),(127.5,39.7),(128.3,38.6),(129.4,36),(128.5,34.8),(126.3,34.5),(126,37.7),(125,38)]]
JAPAN = [[(130.9,34),(133,35.5),(136,35.7),(137,37),(139.5,38.5),(140,40.5),(141,41.4),(142,39.5),(141,37.5),(140.8,35.7),(139,35),(136.8,34.5),(135,33.7),(132.5,34.2)],
         [(140,41.6),(141.5,45.5),(145.3,43.5),(143,42)],[(129.7,33.3),(131,34),(131.8,32.5),(130.6,31)]]
MYANMAR = [[(92.5,20.8),(92.3,23),(93.5,22),(95,25.5),(97,28.2),(98.5,28),(98.7,25.8),(99.3,22.5),(101.2,21.5),(100,20.3),(97.8,17.5),(98.7,15.5),(99.6,11.5),(98.6,10),(98,14),(97.5,16.5),(95.5,15.8),(94.3,16),(94.5,18.5)]]
THAILAND = [[(100.2,20.4),(101,17.5),(102,18),(104,18),(105.6,15.5),(105.6,14),(103,14.3),(102.5,12.2),(100.9,13.5),(100,13.4),(99.2,9.5),(100.5,7.2),(102,6.2),(101,5.7),(100.1,6.5),(98.3,8),(98.6,10),(99.6,11.5),(98.7,15.5),(97.8,17.5)]]
LAOS = [[(100.2,20.4),(101.2,21.5),(102,22.4),(103,20.5),(105,19),(107.5,15.5),(107.5,14.7),(105.6,14),(105.6,15.5),(104,18),(102,18),(101,17.5)]]
VIETNAM = [[(102,22.4),(106.7,22.8),(108,21.6),(105.8,19),(108.8,15.5),(109.3,12),(106.8,10.3),(105,8.7),(104.8,10.4),(106,11),(107.5,12.5),(107.5,14.7),(107.5,15.5),(105,19),(103,20.5)]]
CAMBODIA = [[(102.5,12.2),(103,14.3),(105.6,14),(107.5,14.7),(107.5,12.5),(106,11),(104.8,10.4),(103.5,10.6)]]
MALAYSIA = [[(100.1,6.5),(101,5.7),(102,6.2),(103.5,4),(104.2,1.4),(103.4,1.5),(101,3),(100.3,5.8)],
            [(109.6,2),(111,1.5),(113,1.5),(115,3),(117.6,4.2),(119.2,5.3),(116.7,6.9),(115.5,5.5),(113,3.2),(111.2,2.7)]]
INDONESIA = [[(109,0.5),(109.6,2),(111,1.5),(113,1.5),(115,3),(117.6,4.2),(118.9,1),(117.5,0),(116.1,-3.8),(114.5,-4),(110.9,-2.9),(109,0.1)],
             [(95.2,5.4),(97.7,5.1),(100.5,2.2),(103.5,-0.2),(106,-2.9),(105.7,-6),(102.9,-4.5),(99.2,-0.2)],
             [(105.4,-6.3),(106.5,-6),(110.9,-6.6),(114.5,-7.8),(115.5,-8.5),(110,-8),(106.4,-7.4)],
             [(115,-8.3),(119,-8.3),(119,-8.8),(115,-8.8)],[(120,-8.4),(123,-8.2),(123,-8.7),(120,-8.9)],
             [(119.3,-9.5),(120.8,-9.9),(120.8,-10.2),(119.5,-9.8)],[(123.6,-10.3),(124.9,-9.2),(125,-9.5),(124,-10.3)],
             [(119.8,0.8),(120.8,1.3),(125,1.6),(124.5,0.5),(120.5,0.4),(120,-0.8),(121.5,-1),(123.2,-0.9),(121.5,-1.9),(123,-4.5),(122,-4.7),(121,-3),(120.5,-5.5),(119.5,-5.4),(119.5,-3.4),(118.9,-2.8),(119.8,-0.1)],
             [(127.7,2),(128.7,1.5),(128,0),(127.8,-0.8),(127.6,0.8)],[(128,-3.3),(130.8,-3.8),(129.5,-3.3)],[(126,-3.3),(127.2,-3.4),(126.8,-3.8)],
             [(130.5,-0.8),(134.2,-0.8),(135.4,-3.5),(137.3,-1.7),(141,-2.9),(141,-9),(137.9,-8.5),(138.8,-6.6),(133.6,-3.8),(132.8,-4),(133.8,-2.8),(132,-2.8)]]
EAST_TIMOR = [[(125,-9.2),(127.3,-8.4),(126.5,-9),(125,-9.5)]]
PNG = [[(141,-2.9),(145.6,-4.8),(147.7,-6.6),(146.8,-7.5),(150.8,-10.6),(146.5,-9.4),(144.5,-7.7),(143,-9.2),(141,-9)],
       [(148.3,-5.6),(152,-4.2),(152.3,-5),(150,-6.2)]]
NEW_IRELAND = [[(150.8,-2.6),(153,-4.3),(152.8,-4.8),(151,-3)],[(155,-5.5),(156,-6.8),(155.3,-6.8)],[(157,-7),(160,-8.6),(159.5,-8.8)],[(160,-9.3),(162,-10.5),(160.8,-10)]]
PHILIPPINES = [[(120.5,18.5),(122.2,18.4),(121.7,16),(124,13),(121.5,13.8),(120.3,14.7),(120,16.3)],
               [(122,7),(123.5,8.5),(125.4,9.8),(126.5,7.5),(125.5,5.7),(124,6.5)],
               [(122,11.7),(123.2,11.4),(123.2,9.3),(122.5,10)],[(124.3,12.5),(125.5,12.3),(125,10.2),(124.3,11)],
               [(120.4,13.4),(121.5,13),(121.1,12.3)]]
PALAWAN = [[(117.2,8.4),(119.5,11.3),(119.7,10.5),(117.6,8.3)]]
AUSTRALIA = [[(114.2,-22),(113.5,-26),(115.7,-32),(115,-34.3),(118,-35),(124,-33),(129,-31.6),(131.5,-31.5),(135,-34.8),(138,-33),(138.5,-35.5),(140.5,-38),(144,-38.5),(146.5,-39),(150,-37.5),(151.5,-33),(153.5,-28),(153,-25.5),(149,-21),(146,-19),(145.3,-15),(143.5,-14),(142.5,-10.7),(141.5,-13),(141,-17),(139.5,-17.5),(135.5,-15),(137,-12),(133,-11.5),(130,-12.3),(129.5,-15),(126,-14),(122,-18),(119,-20)],
             [(144.7,-40.8),(148.2,-40.8),(148,-43),(146,-43.6)]]
NEW_ZEALAND = [[(172.7,-34.5),(175.5,-36.6),(178.5,-37.7),(177,-39.7),(175.2,-41.6),(174.8,-39.8),(174.6,-37.5)],
               [(172.7,-40.6),(174.3,-41.7),(171.5,-44),(170.7,-46),(167.7,-46.3),(166.5,-45.8),(170,-43.3)]]
NEW_CALEDONIA = [[(164,-20.2),(167,-22.3),(166.4,-22.3)]]
SMALL_ISLANDS = [[(-24.5,16.8),(-23.5,16.2),(-24,15.2)],[(-16.5,28.4),(-15.5,28),(-14,28.8)],[(-28.5,38.6),(-27.5,38.8),(-28,38.4)],[(-17,32.8),(-16.6,32.6),(-17,32.6)],
                 [(-7.2,62.2),(-6.7,62.1),(-7,61.8)],[(-1.5,60.4),(-1,60.5),(-1.2,59.9)],[(177.5,-17.6),(178.6,-17.8),(178,-18.2)],[(167,-15.2),(167.5,-15.6),(167,-16)],
                 [(-172.6,-13.5),(-172,-13.8),(-172.6,-13.9)],[(145.6,15.2),(145.8,15.1),(145.7,14.9)],[(144.7,13.6),(144.9,13.4),(144.7,13.3)],[(57.4,-20),(57.8,-20.2),(57.5,-20.5)],
                 [(55.3,-21),(55.8,-21.2),(55.4,-21.4)],[(43.3,-11.5),(43.6,-11.8),(43.3,-12)],[(73.4,4.3),(73.7,4),(73.4,3.6)],[(146.5,44.5),(148,45.3),(147.5,44.8)],[(153,47.5),(154.5,48.8),(154,48)],
                 [(-60.9,14.6),(-60.6,14.4),(-61,14.2)],[(-61.6,16.4),(-61.2,16.2),(-61.6,16)],[(-61,10.7),(-60.9,10.2),(-61.6,10.1)]]

GREAT_BRITAIN = [[(-5.7,50),(-3,50.7),(1.3,51.2),(1.7,52.7),(0.2,53),(-0.2,54.3),(-1.5,55.2),(-2,56),(-2,57.6),(-4,57.6),(-3,58.6),(-5,58.6),(-6,57),(-5.5,55.4),(-4.8,54.8),(-3,54.9),(-3,53.4),(-4.6,53.2),(-4.5,52),(-5.2,51.8),(-3,51.4),(-4.5,51)],
                 [(-7.3,55.1),(-5.6,54.6),(-6,54),(-7.5,54.3)]]
IRELAND = [[(-10,54.2),(-8.2,55.1),(-7.3,55.1),(-7.5,54.3),(-6,54),(-6,52.2),(-9.8,51.5),(-9,53)]]
ICELAND = [[(-23.9,66.2),(-14.5,66.5),(-13.9,65),(-19.8,63.4),(-23.3,64.6)]]
FRANCE = [[(-1.8,43.4),(-1,46),(-4.7,48.4),(-1.5,48.7),(-1.5,49.7),(1.5,50.2),(2.5,51.1),(4.2,50),(5.8,49.5),(8.2,49),(7.6,47.6),(6,46.3),(7,45.9),(7,44.2),(7.5,43.8),(4,43.4),(3,43),(3.2,42.4),(0.7,42.7)],
          [(8.6,42.4),(9.4,43),(9.5,42),(9.2,41.4)]]
SPAIN = [[(-9.2,43),(-8.1,43.7),(-1.8,43.4),(0.7,42.7),(3.2,42.4),(0.8,41),(-0.3,39.5),(0.2,38.7),(-2,36.8),(-5.4,36.1),(-7.4,37.2),(-7,39.5),(-6.5,41.7),(-8.2,42)]]
PORTUGAL = [[(-8.9,41.9),(-8.2,42),(-6.5,41.7),(-7,39.5),(-7.4,37.2),(-9,37),(-9.5,38.8)]]
BELGIUM = [[(2.5,51.1),(4.3,51.4),(5.9,51),(6.1,50.1),(5.8,49.5),(4.2,50)]]
LUXEMBOURG = [[(5.8,49.5),(6.1,50.1),(6.5,49.8),(6.2,49.45)]]
NETHERLANDS = [[(3.5,51.4),(4.7,53),(7,53.4),(7,52),(5.9,51),(4.3,51.4)]]
GERMANY = [[(7,53.4),(8.7,54),(8.6,54.9),(11,54.4),(14.2,53.9),(14.6,52.6),(15,51),(12.2,50.3),(13.8,48.6),(13,47.5),(10,47.4),(7.6,47.6),(8.2,49),(6.5,49.8),(6.1,50.1),(5.9,51),(7,52)]]
DENMARK = [[(8.1,57),(10.6,57.7),(10.3,56),(9.7,55),(8.6,54.9)],[(11,55.7),(12.6,56),(12.3,55),(11,55)]]
NORWAY = [[(5,59),(5,62),(10,64),(14,67.5),(18,69.8),(25,71),(31,70.3),(29,69),(26,69.9),(20.5,69),(16,67),(14,65),(12,63),(12.2,60),(11,59),(8,58)],
          [(11,79),(17,80),(25,80.3),(22,78.5),(16,76.7)]]
SWEDEN = [[(11,59),(12.2,60),(12,63),(14,65),(16,67),(20.5,69),(23.6,68),(24,66),(22,65.7),(21,64),(17.5,62),(17,60.7),(18.8,59.8),(16.7,57.5),(16.3,56.2),(14.3,55.5),(13,55.4),(11.5,58)]]
FINLAND = [[(20.5,69),(26,69.9),(29,69),(29,66.9),(31.5,62.8),(28,60.5),(23,59.9),(21.4,61),(21.5,63),(25.3,65),(24,66),(23.6,68)]]
ESTONIA = [[(23.5,59.2),(28,59.5),(27.4,57.6),(25,58),(23.5,58.5)]]
LATVIA = [[(21,57),(22.5,57.7),(24.3,57.2),(25,58),(27.4,57.6),(28.2,56.2),(26.5,55.7),(25,56.3),(21,56.1)]]
LITHUANIA = [[(21,56.1),(25,56.3),(26.5,55.7),(26,54),(23.5,54),(22.8,54.4),(21,55.3)]]
POLAND = [[(14.2,53.9),(19,54.4),(22.8,54.4),(23.5,54),(24,50.8),(22.6,49.1),(19,49.5),(15,51),(14.6,52.6)]]
BELARUS = [[(23.5,54),(26,54),(26.5,55.7),(28.2,56.2),(31,55),(32.7,53.4),(31.5,52.2),(30,51.5),(24,51.7),(23.5,52)]]
UKRAINE = [[(24,51.7),(30,51.5),(31.5,52.2),(34,52.3),(36,50.3),(40,49.6),(38.2,47.2),(35,46.3),(33.5,46),(36.5,45.3),(34,44.4),(33,45.5),(30.8,46.3),(29.7,45.3),(28.2,45.5),(29,47.8),(26.6,48.3),(22.6,48.3),(22.6,49.1),(24,50.8)]]
MOLDOVA = [[(26.6,48.3),(29,47.8),(30,46.4),(28.2,45.5),(28,46.7)]]
CZECHIA = [[(12.2,50.3),(15,51),(18.8,49.6),(17,48.7),(15,49),(13.8,48.6)]]
SLOVAKIA = [[(17,48.7),(18.8,49.6),(22.6,49.1),(22.2,48.4),(18.8,47.8)]]
AUSTRIA = [[(10,47.4),(13,47.5),(13.8,48.6),(15,49),(17,48.7),(16.2,46.9),(13.8,46.5),(10.5,46.9)]]
SWITZERLAND = [[(6,46.3),(7.6,47.6),(10,47.4),(10.5,46.9),(9,45.9),(7,45.9)]]
ITALY = [[(7,45.9),(9,45.9),(10.5,46.9),(13.8,46.5),(13.7,45.6),(12.3,45.3),(12.4,44.2),(13.6,43.5),(14.5,42.2),(16.1,41.8),(18.5,40.2),(18.3,39.8),(16.9,40.4),(16.6,38.9),(16,38),(15.7,40),(12.5,41.5),(10.5,42.9),(8.8,44.4),(7.5,43.8),(7,44.2)],
         [(12.5,38),(15.5,38.2),(15.2,36.7),(12.5,37.6)],[(8.2,41),(9.6,41),(9.6,39.2),(8.5,39)]]
SLOVENIA = [[(13.7,45.6),(13.8,46.5),(16.2,46.8),(15.5,45.8)]]
CROATIA = [[(13.7,45.2),(15.5,45.8),(16.2,46.5),(18.9,45.9),(19,44.9),(15.8,45),(16,43.5),(18.5,42.4),(15.2,44.2)]]
BOSNIA = [[(15.8,45),(19,44.9),(19.5,43.5),(18.5,42.6),(16,43.5)]]
HUNGARY = [[(16.2,46.9),(17,48.2),(18.8,47.8),(22.2,48.4),(22.8,48),(21,46.2),(18.9,45.9),(16.2,46.5)]]
ROMANIA = [[(22.8,48),(26.6,48.3),(28,46.7),(28.2,45.5),(29.7,45.3),(28.6,43.8),(27,44.1),(22.7,43.9),(21.4,44.8),(21,46.2)]]
SERBIA = [[(18.9,45.9),(21,46.2),(21.4,44.8),(22.7,43.9),(22.4,42.4),(20.6,42),(19.5,43.5),(19,44.9)]]
BULGARIA = [[(22.7,43.9),(27,44.1),(28.6,43.8),(27.7,42.7),(28,42),(26.3,41.3),(22.9,41.3),(22.4,42.4)]]
MACEDONIA = [[(20.5,42),(22.4,42.3),(22.9,41.3),(20.7,40.9)]]
MONTENEGRO = [[(18.5,42.6),(19.5,43.5),(20.6,42),(19.3,41.9)]]
ALBANIA = [[(19.3,41.9),(20.5,42),(20.7,40.9),(20,39.7),(19.4,40.5)]]
GREECE = [[(20,39.7),(20.7,40.9),(22.9,41.3),(26.3,41.3),(26,40.8),(23.8,40.5),(22.7,40.3),(23.8,38),(23,36.5),(21.7,36.8),(21,38.3)],
          [(23.6,35.5),(26.3,35.2),(24.7,35)]]
CYPRUS = [[(32.3,35),(34.5,35.6),(33.8,34.9),(32.8,34.6)]]
GEORGIA = [[(40,43.4),(43.5,42.6),(46.5,41.9),(45,41.2),(43.5,41),(41.5,41.5)]]
ARMENIA = [[(43.5,41),(45,41.2),(46.5,39),(44.8,39.7)]]
AZERBAIJAN = [[(45,41.2),(46.5,41.9),(48.5,41.8),(50,40.3),(49,39),(48.5,39.5),(46.5,38.9),(46.5,39)]]
RUSSIA = [[(28,59.5),(30,60),(28,60.5),(31.5,62.8),(29,66.9),(29,69),(31.3,69.6),(33,69.3),(40.3,67.8),(41,66.5),(33.8,66.5),(34.6,64.3),(39.6,65),(43.7,66.5),(43.7,68.7),(46.6,68),(53.6,68.9),(60,68.9),(61,69.8),(68,68.7),(66.5,71),(69.2,73),(72.9,73),(72.4,66.5),(75,68),(75.3,72.6),(80.7,73.5),(87.3,75.7),(96.2,76.3),(104,77.6),(113,74),(113,73.5),(127,72.5),(130,71),(140,72.7),(150,71.5),(160,69.7),(170,70),(180,69),(180,65),(177,64.5),(179.5,62.5),(170,60),(163.5,59.8),(162,57.5),(163,56),(160,53),(156.7,51),(155.7,56),(161,60.5),(164,62.5),(156,61.5),(154,59.4),(142,59.3),(135.5,54.7),(141,53),(140,48),(135,43.5),(131,42.7),(130.5,42.8),(131,45),(135,48.4),(130.8,48.8),(127,50),(123.5,53.5),(120,53.3),(117,49.6),(114,50.2),(107,50),(102,51.4),(98.5,52),(98,50.5),(92,50.8),(87.8,49.2),(87.3,49.1),(85.5,49.5),(83,51),(80,51),(77,53.3),(73.5,53.8),(71,55),(69,55.3),(65,54.6),(61,54),(61.5,53),(59,50.7),(55,51),(51,51.5),(47.5,50),(46.7,48.5),(47,48),(49.5,46.5),(47,45),(47.5,43),(48.5,41.8),(46.5,41.9),(43.5,42.6),(40,43.4),(37,45),(38.2,47.2),(40,49.6),(36,50.3),(34,52.3),(31.5,52.2),(32.7,53.4),(31,55),(28.2,56.2),(27.4,57.6)],
          [(20,54.4),(22.8,54.4),(21,55.3)],
          [(51.5,71.7),(56,75.1),(68.4,76.6),(63.4,75.1),(56.8,73.5),(55.6,71.4),(52,71.4)],
          [(142,54),(143.3,52),(143.5,49),(142.7,46.7),(142,47.5),(142,50),(141.8,53)],
          [(95,79.5),(103,79),(100,78),(92,80)],[(137,75.5),(145,75.3),(150,75),(140,74)],
          [(-180,68.9),(-174.9,67.1),(-170.2,65.9),(-173,64.3),(-180,65.3)],
          [(-180,71.5),(-177.5,71.2),(-180,70.9)]]
FRANZ_JOSEF = [[(50,80.5),(60,81),(63,80.5),(52,79.8)]]
ANTARCTICA = [[(-180,-83.9),(-169,-83.6),(-156.6,-85.1),(-143,-84.8),(-152.8,-83.3),(-156.6,-80.8),(-146.7,-79.9),(-157.8,-76.9),(-145.4,-75.9),(-140.5,-74.7),(-120,-74),(-100,-73.5),(-85,-73),(-75,-71),(-70,-69.2),(-67.5,-68),(-62.6,-64),(-57.6,-63),(-63.8,-66.1),(-67.5,-69.2),(-62,-72),(-77.4,-77.8),(-72.5,-79.9),(-57.6,-82.7),(-28,-80.2),(-35.4,-78.4),(-25.5,-75.9),(-18,-74.7),(-10,-71.5),(0,-70),(32.6,-68.6),(53.6,-65.5),(69.7,-68.6),(78.4,-68.6),(103,-65.5),(135,-65.2),(155,-68.6),(163.7,-75.3),(160,-81.5),(180,-84.5),(180,-90),(-180,-90)],
              [(-165,-78.5),(-160.5,-79.3),(-161,-78)],[(-49,-78),(-44,-77.5),(-51.5,-80.9),(-55,-80.5)]]

NO_DATA_COUNTRIES = [CANADA, GREENLAND, BELIZE, COSTA_RICA, CUBA, DOMINICAN, PUERTO_RICO, BAHAMAS, VENEZUELA, GUIANAS, ECUADOR, CHILE, ARGENTINA, URUGUAY, FALKLANDS,
                     W_SAHARA, ALGERIA, TUNISIA, LIBYA, SUDAN, S_SUDAN, ERITREA, SOMALIA, EQ_GUINEA, CAR, GUINEA_BISSAU, ZIMBABWE, BOTSWANA,
                     SYRIA, ISRAEL_LEBANON, SAUDI, OMAN_UAE, IRAN, TURKMENISTAN, UZBEKISTAN, TAIWAN, KOREAS, JAPAN, MYANMAR, MALAYSIA, NEW_IRELAND, PALAWAN, AUSTRALIA, NEW_ZEALAND, NEW_CALEDONIA, SMALL_ISLANDS,
                     ICELAND, PORTUGAL, NETHERLANDS, NORWAY, SWITZERLAND, SLOVENIA, MONTENEGRO, FRANZ_JOSEF, ANTARCTICA]
BIN_COUNTRIES = [
    [ETHIOPIA, BURKINA, GUINEA, MADAGASCAR, RWANDA, UGANDA, MALAWI, EAST_TIMOR],
    [MAURITANIA, MALI, NIGER, SIERRA_LEONE, LIBERIA, IVORY_COAST, TOGO, NIGERIA, CAMEROON, DR_CONGO, KENYA, TANZANIA, BURUNDI, ZAMBIA, MOZAMBIQUE, ANGOLA, AFGHANISTAN, NEPAL, BHUTAN, BANGLADESH],
    [CHAD, SENEGAL, GHANA, BENIN, GABON, CONGO, PAKISTAN, NICARAGUA, CAMBODIA],
    [TAJIKISTAN, HONDURAS, LAOS],
    [BRAZIL, PERU, BOLIVIA, COLOMBIA, PARAGUAY, GUATEMALA, EL_SALVADOR, HAITI, JAMAICA, EGYPT, MOROCCO, IRAQ, YEMEN, INDIA, SRI_LANKA, UKRAINE, MOLDOVA, INDONESIA, PHILIPPINES, PNG, VIETNAM, KYRGYZSTAN, ALBANIA, ARMENIA, GEORGIA, LESOTHO, SWAZILAND],
    [MEXICO, PANAMA, SPAIN, LITHUANIA, TURKEY, CHINA, HUNGARY, ROMANIA, BULGARIA, BOSNIA, CROATIA, MACEDONIA, JORDAN, SOUTH_AFRICA, NAMIBIA, THAILAND, AZERBAIJAN, SLOVAKIA],
    [SWEDEN, FRANCE, POLAND, BELARUS, CZECHIA, LATVIA, ITALY, SERBIA, MONGOLIA],
    [RUSSIA, KAZAKHSTAN, FINLAND, GERMANY, GREAT_BRITAIN, IRELAND, GREECE, AUSTRIA, ESTONIA, DENMARK, CYPRUS],
    [USA, BELGIUM],
    [LUXEMBOURG],
]


def outline(countries):
    xs, ys = [], []
    for country in countries:
        for ring in country:
            xs += [p[0] for p in ring] + [ring[0][0], None]
            ys += [p[1] for p in ring] + [ring[0][1], None]
    return xs, ys


fig = go.Figure()
for countries, colour in [(NO_DATA_COUNTRIES, NO_DATA)] + list(zip(BIN_COUNTRIES, BIN_COLOURS)):
    xs, ys = outline(countries)
    fig.add_trace(go.Scatter(x=xs, y=ys, mode="lines", fill="toself", fillcolor=colour,
                             line=dict(color=NO_DATA, width=1.5), hoverinfo="skip", showlegend=False,
                             xaxis="x", yaxis="y"))

CBAR_LEFT, CBAR_TOP, CBAR_BOTTOM, CBAR_THICK = 1914, 1237.7, 1532.7, 59
axis_font = dict(size=27, color=INK, family=FONT)

# panel b
fig.add_trace(go.Bar(x=REGIONS, y=FOOTPRINT, width=0.9, xaxis="x2", yaxis="y2", showlegend=False,
                     marker=dict(color=EXPENDITURE, colorscale=EXP_SCALE, cmin=EXP_MIN, cmax=EXP_MAX, line_width=0,
                                 colorbar=dict(x=CBAR_LEFT/W, xanchor="left", xpad=0, y=(H-CBAR_BOTTOM)/H, yanchor="bottom", ypad=0,
                                               lenmode="pixels", len=CBAR_BOTTOM-CBAR_TOP, thicknessmode="pixels", thickness=CBAR_THICK,
                                               outlinewidth=0, ticks="inside", ticklen=12, tickcolor="rgba(255,255,255,0.8)", tickwidth=1.5,
                                               tickvals=EXP_TICKS, tickprefix="\u00a0", tickfont=axis_font))))

# legend strip of panel a
fig.add_trace(go.Bar(x=[1]*len(BIN_COLOURS), y=[0.5]*len(BIN_COLOURS), base=list(range(len(BIN_COLOURS))), orientation="h", width=1,
                     marker=dict(color=BIN_COLOURS, line_width=0), xaxis="x3", yaxis="y3", showlegend=False, hoverinfo="skip"))


def cbar_y(v):
    px = CBAR_BOTTOM - (v - EXP_MIN) / (EXP_MAX - EXP_MIN) * (CBAR_BOTTOM - CBAR_TOP)
    return 1 - px / H


fig.update_layout(
    width=W, height=H, margin=dict(l=0, r=0, t=0, b=0, autoexpand=False), paper_bgcolor="white", plot_bgcolor="rgba(0,0,0,0)",
    barmode="overlay", showlegend=False, font=dict(family=FONT, size=27, color=INK),
    xaxis=dict(domain=[101/W, 2055/W], range=[-180, 180], visible=False),
    yaxis=dict(domain=[1-958/H, 1-16/H], range=[-89.7, 83.8], visible=False),
    xaxis2=dict(domain=[102/W, 1776.4/W], anchor="y2", type="category", categoryorder="array", categoryarray=REGIONS, range=[-0.6, 8.6],
                showgrid=True, gridcolor="white", gridwidth=4, zeroline=False, ticks="outside", ticklen=10, tickwidth=1.5, tickcolor="#808080",
                tickfont=axis_font, title=dict(text="Region", font=axis_font, standoff=17), automargin=False),
    yaxis2=dict(domain=[1-1646.7/H, 1-1019/H], anchor="x2", range=[-0.728, 15.19], tickvals=[0, 5, 10, 15],
                showgrid=True, gridcolor="white", gridwidth=4.5, zeroline=False, ticks="outside", ticklen=12, tickwidth=1.5, tickcolor="#808080",
                minor=dict(showgrid=True, gridcolor="white", gridwidth=2, tickvals=[2.5, 7.5, 12.5]),
                tickfont=axis_font, title=dict(text="Carbon footprint (tCO<sub>2</sub>)", font=axis_font, standoff=22), automargin=False),
    xaxis3=dict(domain=[122/W, 2034/W], anchor="y3", range=[0, 10], tickvals=list(range(11)), ticktext=BIN_LABELS,
                ticks="outside", ticklen=12, tickwidth=1, tickcolor=INK, tickfont=axis_font, ticklabelstandoff=67,
                showgrid=False, zeroline=False, showline=True, mirror=True, linecolor="#444444", linewidth=1.5),
    yaxis3=dict(domain=[1-877/H, 1-846/H], anchor="x3", range=[0, 1], visible=False),
    shapes=[
        dict(type="rect", xref="paper", yref="paper", x0=101/W, x1=2055/W, y0=1-958/H, y1=1-16/H, fillcolor=OCEAN, line_width=0, layer="below"),
        dict(type="rect", xref="paper", yref="paper", x0=102/W, x1=1776.4/W, y0=1-1646.7/H, y1=1-1019/H, fillcolor="#EBECEC", line_width=0, layer="below"),
        dict(type="line", xref="x2 domain", yref="y2", x0=0, x1=1, y0=TARGET_HIGH, y1=TARGET_HIGH, line=dict(color=INK, width=2.2, dash="13px,8px")),
        dict(type="line", xref="x2 domain", yref="y2", x0=0, x1=1, y0=TARGET_LOW, y1=TARGET_LOW, line=dict(color=INK, width=2.2, dash="13px,8px")),
    ] + [dict(type="line", xref="paper", yref="paper", x0=CBAR_LEFT/W, x1=(CBAR_LEFT+12)/W, y0=cbar_y(v), y1=cbar_y(v),
              line=dict(color="rgba(255,255,255,0.8)", width=1.5), layer="above") for v in EXP_TICKS],
    annotations=[
        dict(text="Global target", x=0.876, y=2.23, xref="x2", yref="y2", showarrow=False, font=axis_font),
        dict(text="Carbon footprint (tCO<sub>2</sub>)", x=1078/W, y=1-820/H, xref="paper", yref="paper", showarrow=False, font=axis_font),
        dict(text="<b>a</b>", x=0, y=1-13/H, xref="paper", yref="paper", xanchor="left", yanchor="middle", showarrow=False, font=dict(size=32, color=INK, family=FONT)),
        dict(text="<b>b</b>", x=0, y=1-1031/H, xref="paper", yref="paper", xanchor="left", yanchor="middle", showarrow=False, font=dict(size=32, color=INK, family=FONT)),
    ] + [dict(text=line, x=CBAR_LEFT/W, y=1-(1098+32*i)/H, xref="paper", yref="paper", xanchor="left", yanchor="top", showarrow=False, font=axis_font)
         for i, line in enumerate(EXP_TITLE)]
      + [dict(text=f"{v:.1f}", x=r, y=v, xref="x2", yref="y2", yshift=-13 if v < 1 else -18, showarrow=False, font=axis_font)
         for r, v in zip(REGIONS, FOOTPRINT)],
)
fig.write_html("out.html", config={"displayModeBar": False}, post_script="document.body.style.margin='0';")
